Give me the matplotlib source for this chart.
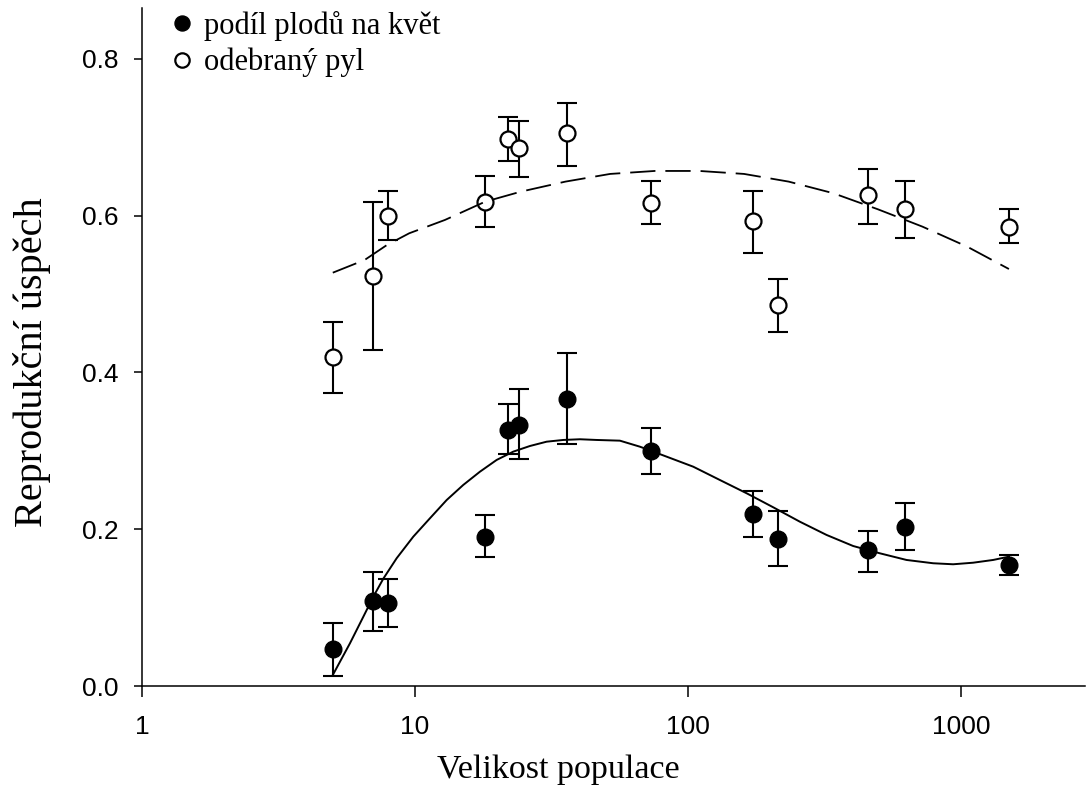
import matplotlib
matplotlib.use("Agg")
import matplotlib.pyplot as plt

# population sizes of the sampled sites
pop_size = [5, 7, 8, 18, 22, 24, 36, 73, 173, 214, 455, 622, 1500]

# fruit set per flower (filled circles)
fruit = [0.047, 0.108, 0.106, 0.190, 0.327, 0.333, 0.366, 0.300, 0.220, 0.188, 0.173, 0.203, 0.155]
fruit_lo = [0.013, 0.070, 0.075, 0.164, 0.296, 0.289, 0.309, 0.270, 0.190, 0.153, 0.146, 0.173, 0.142]
fruit_hi = [0.081, 0.145, 0.136, 0.218, 0.360, 0.379, 0.425, 0.329, 0.249, 0.223, 0.198, 0.234, 0.167]

# removed pollen (open circles)
pollen = [0.420, 0.523, 0.599, 0.618, 0.698, 0.686, 0.705, 0.616, 0.593, 0.486, 0.626, 0.609, 0.585]
pollen_lo = [0.374, 0.429, 0.569, 0.585, 0.670, 0.650, 0.663, 0.589, 0.553, 0.452, 0.590, 0.571, 0.565]
pollen_hi = [0.464, 0.618, 0.632, 0.651, 0.726, 0.721, 0.744, 0.644, 0.631, 0.519, 0.660, 0.644, 0.609]

# fitted curves
fit_fruit_x = [5.0, 5.78, 6.47, 7.04, 7.66, 8.57, 9.86, 11.35, 13.07, 15.03, 17.3, 19.92, 22.92,
               26.38, 30.37, 34.93, 40.22, 46.3, 56.35, 66.73, 74.64, 83.56, 104.6, 131.0, 164.1,
               205.4, 257.2, 322.2, 403.2, 505.0, 632.4, 791.5, 937.2, 1109, 1313, 1500]
fit_fruit_y = [0.014, 0.0545, 0.0884, 0.114, 0.137, 0.163, 0.1905, 0.214, 0.2373, 0.2565, 0.2734,
               0.2884, 0.299, 0.3062, 0.3117, 0.3139, 0.3148, 0.3139, 0.313, 0.3053, 0.299, 0.2926,
               0.2798, 0.2628, 0.2459, 0.228, 0.2096, 0.1927, 0.1786, 0.1693, 0.1608, 0.1566,
               0.1553, 0.1573, 0.1608, 0.165]
fit_pollen_x = [5.0, 6.54, 7.9, 9.53, 12.88, 18.08, 24.43, 35.59, 51.88, 75.59, 110.2, 160.6,
                234.0, 340.9, 496.6, 723.9, 1055, 1500]
fit_pollen_y = [0.5273, 0.5435, 0.5627, 0.5776, 0.5946, 0.6179, 0.6307, 0.6435, 0.6533, 0.6571,
                0.6571, 0.6533, 0.6435, 0.6287, 0.6082, 0.586, 0.5605, 0.532]

serif = "Liberation Serif"
sans = "Liberation Sans"

fig = plt.figure(figsize=(10.86, 7.89), dpi=100)
ax = fig.add_axes([142 / 1086, 1 - 686 / 789, (1085 - 142) / 1086, (686 - 8) / 789])

err_kw = dict(fmt="none", ecolor="black", elinewidth=1.5, capsize=7, capthick=1.5, zorder=2)
ax.errorbar(pop_size, fruit, yerr=[[f - l for f, l in zip(fruit, fruit_lo)],
                                   [h - f for f, h in zip(fruit, fruit_hi)]], **err_kw)
ax.errorbar(pop_size, pollen, yerr=[[p - l for p, l in zip(pollen, pollen_lo)],
                                    [h - p for p, h in zip(pollen, pollen_hi)]], **err_kw)

h1, = ax.plot(pop_size, fruit, "o", ms=12, mfc="black", mec="black", ls="none", zorder=3,
              label="podíl plodů na květ")
h2, = ax.plot(pop_size, pollen, "o", ms=11.5, mfc="white", mec="black", mew=1.6, ls="none", zorder=3,
              label="odebraný pyl")

ax.plot(fit_fruit_x, fit_fruit_y, "-", color="black", lw=1.4, zorder=4)
ax.plot(fit_pollen_x, fit_pollen_y, color="black", lw=1.3, dashes=(14, 5.5), zorder=4)

ax.set_xscale("log")
ax.set_xlim(1, 2850)
ax.set_ylim(0, 0.865)
ax.set_xticks([1, 10, 100, 1000])
ax.set_xticklabels(["1", "10", "100", "1000"])
ax.xaxis.set_minor_locator(matplotlib.ticker.NullLocator())
ax.set_yticks([0.0, 0.2, 0.4, 0.6, 0.8])
ax.set_yticklabels(["0.0", "0.2", "0.4", "0.6", "0.8"])

for s in ["top", "right"]:
    ax.spines[s].set_visible(False)
for s in ["left", "bottom"]:
    ax.spines[s].set_linewidth(1.1)

ax.tick_params(axis="x", direction="out", length=8, width=1.1, pad=13, labelsize=19)
ax.tick_params(axis="y", direction="out", length=6, width=1.1, pad=11, labelsize=19)
for lab in ax.get_xticklabels() + ax.get_yticklabels():
    lab.set_fontfamily(sans)

ax.set_xlabel("Velikost populace", fontsize=24.5, fontfamily=serif, va="center")
ax.xaxis.set_label_coords(0.441, -0.124)
ax.set_ylabel("Reprodukční úspěch", fontsize=29, fontfamily=serif, va="center")
ax.yaxis.set_label_coords(-0.117, 0.478)

ax.legend(handles=[h1, h2], loc="upper left", bbox_to_anchor=(170 / 1086, 1 - 11 / 789),
          bbox_transform=fig.transFigure, frameon=False, prop={"family": serif, "size": 22},
          handlelength=0.8, handletextpad=0.3, labelspacing=0.22, borderpad=0, borderaxespad=0,
          markerscale=0.9)

fig.savefig("out.png", dpi=100)
